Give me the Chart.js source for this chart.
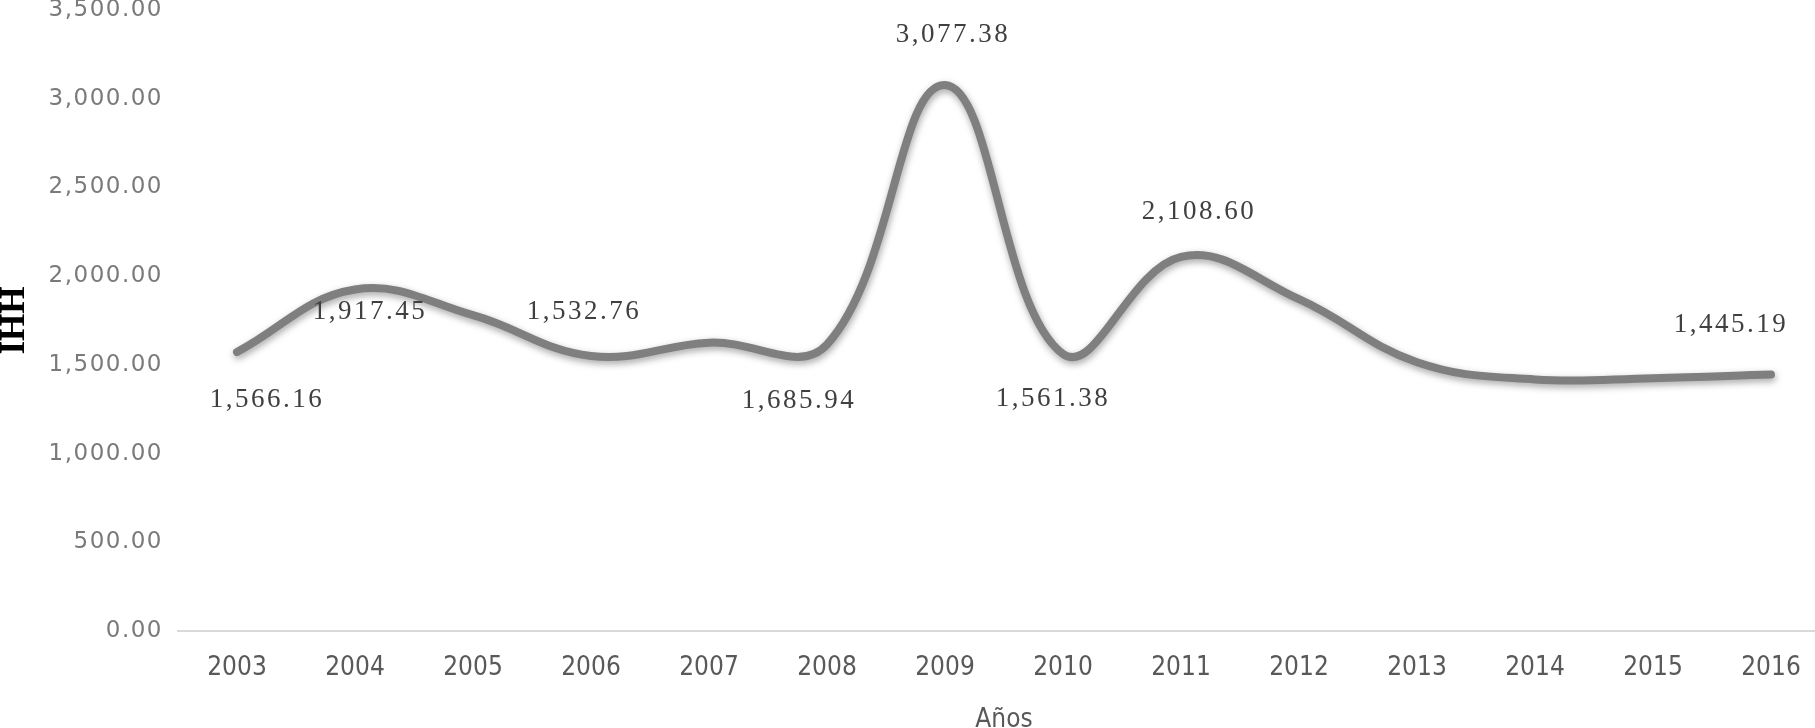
<!DOCTYPE html>
<html lang="es">

<head>
    <meta charset="UTF-8">
    <title>IHH por años</title>
    <style>
        html, body { margin: 0; padding: 0; background: #fff; overflow: hidden; }
        #wrap { position: absolute; left: 0; top: -20px; width: 1845px; height: 770px; }
    </style>
</head>

<body>
    <div id="wrap">
        <canvas id="ihhChart"></canvas>
    </div>

    <script src="https://cdn.jsdelivr.net/npm/chart.js"></script>
    <script>
        // line values
        const years = ['2003', '2004', '2005', '2006', '2007', '2008', '2009', '2010', '2011', '2012', '2013', '2014', '2015', '2016'];
        const ihh = [1572, 1925, 1780, 1550, 1625, 1615, 3077.38, 1561.38, 2108.60, 1870, 1515, 1418, 1425, 1445.19];
        // values as printed on the labels (null = no label)
        const printed = [1566.16, 1917.45, null, 1532.76, null, 1685.94, 3077.38, 1561.38, 2108.60, null, null, null, null, 1445.19];
        const yTicks = [0, 500, 1000, 1500, 2000, 2500, 3000, 3500];

        // where each value label sits relative to its point (px)
        const labelOffsets = [[30, 48], [15, 22], null, [-7, -44], null, [-28, 56], [8, -50], [-10, 45], [18, -45], null, null, null, null, [-40, -50]];

        const fmt = v => v.toLocaleString('en-US', { minimumFractionDigits: 2, maximumFractionDigits: 2 });

        // soft shadow under the line
        const shadowPlugin = {
            id: 'lineShadow',
            beforeDatasetsDraw(chart) {
                const ctx = chart.ctx;
                ctx.save();
                ctx.shadowColor = 'rgba(0,0,0,0.35)';
                ctx.shadowBlur = 7;
                ctx.shadowOffsetX = 1;
                ctx.shadowOffsetY = 3;
            },
            afterDatasetsDraw(chart) {
                chart.ctx.restore();
            }
        };

        // y tick labels are drawn here so they can be letter-spaced
        const yLabelsPlugin = {
            id: 'yLabels',
            afterDraw(chart) {
                const ctx = chart.ctx;
                const y = chart.scales.y;
                ctx.save();
                ctx.font = '23px "DejaVu Sans", sans-serif';
                ctx.letterSpacing = '1.5px';
                ctx.fillStyle = '#7a7a7a';
                ctx.textAlign = 'right';
                ctx.textBaseline = 'middle';
                y.ticks.forEach(t => {
                    ctx.fillText(fmt(t.value), chart.chartArea.left - 15, y.getPixelForValue(t.value));
                });
                ctx.restore();
            }
        };

        const valueLabelsPlugin = {
            id: 'valueLabels',
            afterDraw(chart) {
                const ctx = chart.ctx;
                const meta = chart.getDatasetMeta(0);
                ctx.save();
                ctx.font = '27px "Liberation Serif", serif';
                ctx.letterSpacing = '2.5px';
                ctx.fillStyle = '#404040';
                ctx.textAlign = 'center';
                ctx.textBaseline = 'middle';
                meta.data.forEach((pt, i) => {
                    if (printed[i] === null) return;
                    const off = labelOffsets[i];
                    ctx.fillText(fmt(printed[i]), pt.x + off[0], pt.y + off[1]);
                });
                ctx.restore();
            }
        };

        const config = {
            type: 'line',
            data: {
                labels: years,
                datasets: [{
                    data: ihh,
                    borderColor: '#7f7f7f',
                    borderWidth: 8,
                    borderCapStyle: 'round',
                    borderJoinStyle: 'round',
                    tension: 0.4,
                    pointRadius: 0,
                    fill: false
                }]
            },
            options: {
                responsive: true,
                maintainAspectRatio: false,
                animation: false,
                layout: { padding: { top: 30, right: 15, bottom: 0, left: 0 } },
                scales: {
                    x: {
                        offset: true,
                        grid: { display: false, drawTicks: false },
                        border: { display: true, color: '#d9d9d9', width: 2 },
                        ticks: {
                            color: '#595959',
                            padding: 22,
                            maxRotation: 0,
                            font: { family: '"Liberation Sans Narrow", "DejaVu Sans Condensed", sans-serif', size: 26 }
                        },
                        title: {
                            display: true,
                            text: 'Años',
                            color: '#595959',
                            padding: { top: 0, bottom: 14 },
                            font: { family: '"Liberation Sans Narrow", "DejaVu Sans Condensed", sans-serif', size: 26 }
                        },
                        afterFit(scale) { scale.height = 119; }
                    },
                    y: {
                        min: 0,
                        max: yTicks[yTicks.length - 1],
                        afterBuildTicks(scale) { scale.ticks = yTicks.map(v => ({ value: v })); },
                        grid: { display: false, drawTicks: false },
                        border: { display: false },
                        ticks: { display: false },
                        title: {
                            display: true,
                            text: 'IHH',
                            color: '#000',
                            padding: 0,
                            font: { family: '"Liberation Serif", serif', size: 35, weight: 'bold', lineHeight: 0.85 }
                        },
                        afterFit(scale) { scale.width = 178; }
                    }
                },
                plugins: {
                    legend: { display: false },
                    tooltip: { enabled: false }
                }
            },
            plugins: [shadowPlugin, yLabelsPlugin, valueLabelsPlugin]
        };

        const ihhChart = new Chart(document.getElementById('ihhChart'), config);
    </script>
</body>

</html>
